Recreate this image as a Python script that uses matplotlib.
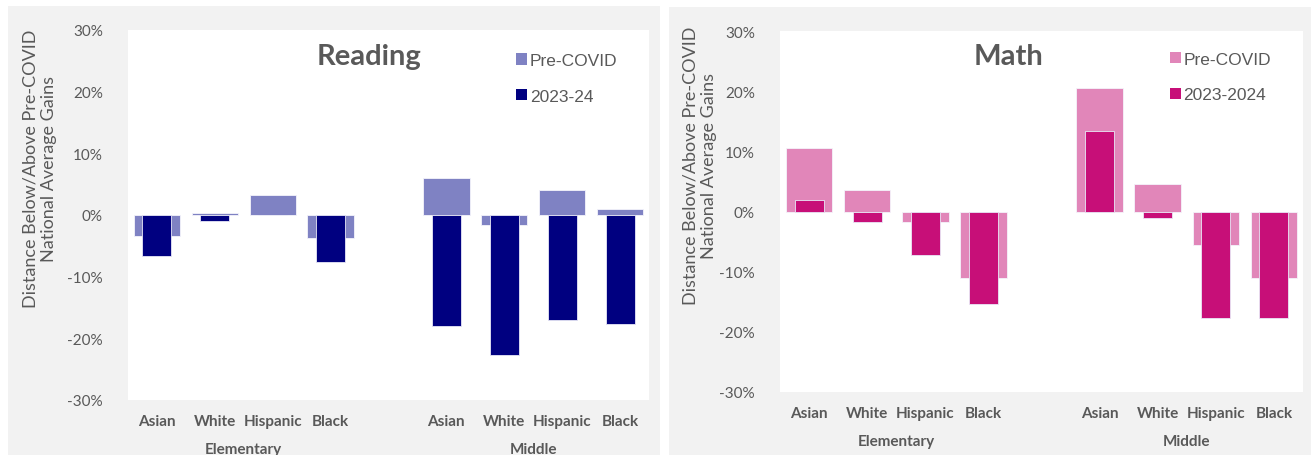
import numpy as np
import matplotlib
matplotlib.use('Agg')
import matplotlib.pyplot as plt
from matplotlib.patches import Rectangle, Patch

plt.rcParams['font.family'] = ['Lato', 'DejaVu Sans']

# Gap to pre-COVID national average gains, in percent
groups = ['Elementary', 'Middle']
races = ['Asian', 'White', 'Hispanic', 'Black']
reading_pre = [-3.4, 0.4, 3.3, -3.7, 6.0, -1.7, 4.0, 0.9]
reading_now = [-6.7, -1.0, 0.0, -7.7, -18.0, -22.7, -17.0, -17.7]
math_pre = [10.6, 3.6, -1.7, -11.0, 20.6, 4.6, -5.6, -11.0]
math_now = [1.9, -1.7, -7.3, -15.3, 13.3, -1.0, -17.7, -17.7]
yticks = [-30, -20, -10, 0, 10, 20, 30]

W, H = 1311, 456
fig = plt.figure(figsize=(W / 100, H / 100), dpi=100)
fig.patch.set_facecolor('white')

grey = '#f2f2f2'
text_c = '#595959'

# light grey panels behind each chart
fig.patches.append(Rectangle((8 / W, 0), 652 / W, 449 / H, transform=fig.transFigure,
                             facecolor=grey, edgecolor='none', zorder=-10))
fig.patches.append(Rectangle((669 / W, 0), 642 / W, 448 / H, transform=fig.transFigure,
                             facecolor=grey, edgecolor='none', zorder=-10))

# bar positions: one empty slot between school levels
pos = np.array([0, 1, 2, 3, 5, 6, 7, 8])


def draw_panel(rect, title, title_x, pre, now, c_pre, c_now, now_label, ylab_xy, leg_top):
    l, t, r, b = rect
    ax = fig.add_axes([l / W, (H - b) / H, (r - l) / W, (b - t) / H])
    ax.set_facecolor('white')
    ax.bar(pos, pre, width=0.8, color=c_pre, edgecolor='#f4f4fb', linewidth=0.6, zorder=2)
    ax.bar(pos, now, width=0.5, color=c_now, edgecolor='#e8e8f6', linewidth=0.6, zorder=3)
    ax.set_xlim(-0.5, 8.5)
    ax.set_ylim(-30, 30)
    ax.set_yticks(yticks)
    ax.set_yticklabels([f'{v}%' for v in yticks], fontsize=11, color=text_c)
    ax.set_xticks(pos)
    ax.set_xticklabels(races * 2, fontsize=11, color=text_c, fontweight='bold')
    ax.tick_params(length=0, axis='y', pad=18)
    ax.tick_params(length=0, axis='x', pad=10)
    for s in ax.spines.values():
        s.set_visible(False)

    for gi, g in enumerate(groups):
        ax.annotate(g, xy=(pos[gi * 4:gi * 4 + 4].mean(), 0), xycoords=('data', 'axes fraction'),
                    xytext=(0, -49), textcoords='offset pixels',
                    ha='center', va='center', fontsize=11, color=text_c, fontweight='bold')

    ax.text(title_x, 0.93, title, transform=ax.transAxes, ha='center', va='center',
            fontsize=21, fontweight='bold', color=text_c)

    handles = [Patch(facecolor=c_pre, label='Pre-COVID'), Patch(facecolor=c_now, label=now_label)]
    leg = ax.legend(handles=handles, loc='upper left', bbox_to_anchor=(0.745, leg_top),
                    frameon=False, borderpad=0, borderaxespad=0, handlelength=0.65,
                    handleheight=0.65, handletextpad=0.15, labelspacing=1.2,
                    prop={'family': 'Liberation Sans', 'size': 12.5})
    for tx in leg.get_texts():
        tx.set_color(text_c)

    fig.text(ylab_xy[0] / W, (H - ylab_xy[1]) / H,
             'Distance Below/Above Pre-COVID\nNational Average Gains',
             rotation=90, ha='center', va='center', multialignment='center',
             fontsize=13, color=text_c, linespacing=1.2)
    return ax


draw_panel((128, 31, 649, 401), 'Reading', 0.463, reading_pre, reading_now,
           '#7f82c3', '#000080', '2023-24', (40, 169), 0.938)
draw_panel((780, 32, 1303, 393), 'Math', 0.436, math_pre, math_now,
           '#e186b9', '#c70f78', '2023-2024', (700, 166), 0.943)

fig.savefig('out.png', dpi=100)
